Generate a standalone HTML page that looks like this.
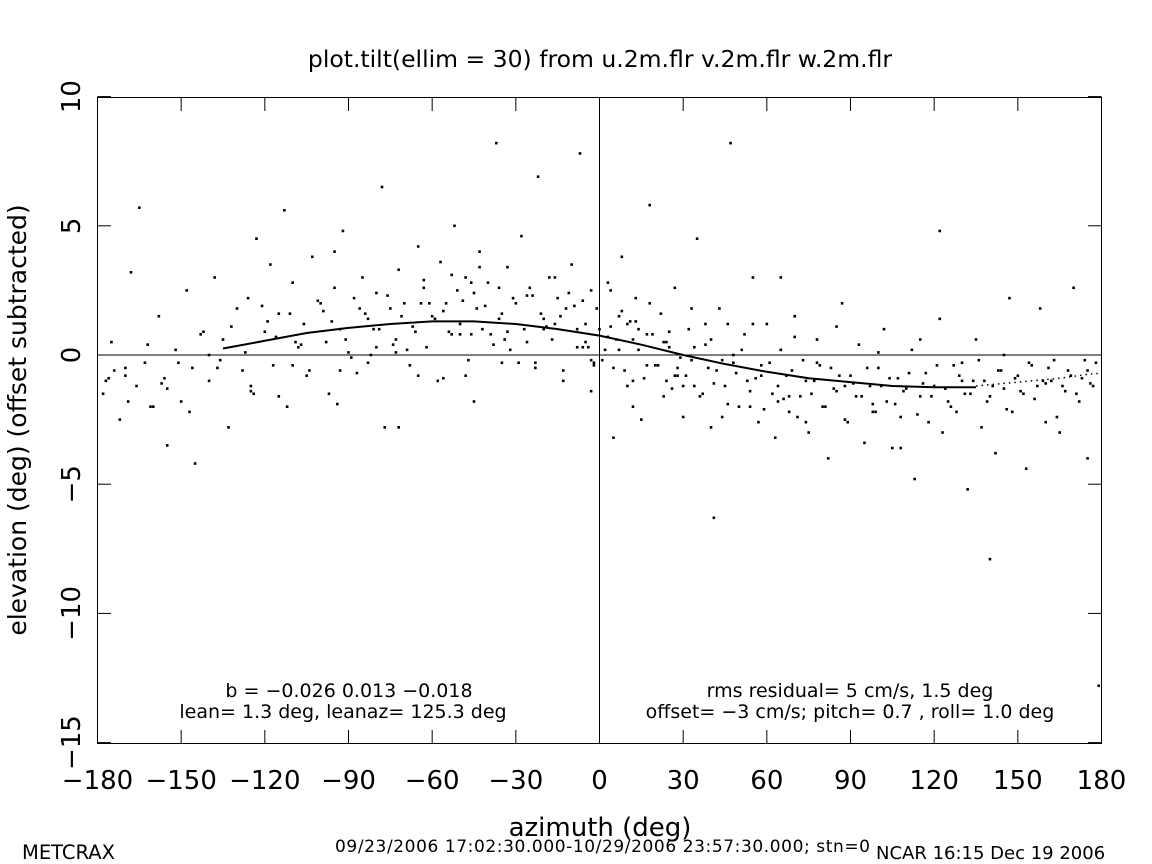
<!DOCTYPE html>
<html><head><meta charset="utf-8"><style>
html,body{margin:0;padding:0;background:#fff;}
svg{display:block;font-family:"DejaVu Sans","Liberation Sans",sans-serif;}
</style></head><body>
<svg id="chart" width="1152" height="864" viewBox="0 0 1152 864">
<text x="600" y="67" font-size="23.5" text-anchor="middle">plot.tilt(ellim = 30) from u.2m.flr v.2m.flr w.2m.flr</text>
<rect x="97.5" y="97.5" width="1004" height="646" fill="none" stroke="#000" stroke-width="1"/>
<g id="ticks"></g>
<g id="pts"></g>
<g id="fit"></g>
<text x="0" y="0" font-size="25" text-anchor="middle" transform="translate(26,420) rotate(-90)">elevation (deg)  (offset subtracted)</text>
<text x="600" y="836" font-size="26" text-anchor="middle">azimuth (deg)</text>
<text x="349" y="697" font-size="19" text-anchor="middle">b = −0.026  0.013 −0.018</text>
<text x="343" y="718" font-size="19" text-anchor="middle">lean= 1.3 deg, leanaz= 125.3 deg</text>
<text x="850" y="697" font-size="19" text-anchor="middle">rms residual= 5 cm/s, 1.5 deg</text>
<text x="850" y="718" font-size="19" text-anchor="middle">offset= −3 cm/s; pitch= 0.7 , roll= 1.0 deg</text>
<text x="22" y="859" font-size="19.5">METCRAX</text>
<text x="335" y="852" font-size="17" textLength="535">09/23/2006 17:02:30.000-10/29/2006 23:57:30.000; stn=0</text>
<text x="876" y="859" font-size="18">NCAR 16:15 Dec 19 2006</text>
</svg>
<script>
const xTicks=[-180,-150,-120,-90,-60,-30,0,30,60,90,120,150,180];
const yTicks=[10,5,0,-5,-10,-15];
const fitAz=[-135,-120,-105,-90,-75,-60,-45,-30,-15,0,15,30,45,60,75,90,105,120,135];
const fitEl=[0.25,0.55,0.85,1.05,1.2,1.3,1.3,1.2,1.0,0.75,0.4,0.0,-0.35,-0.65,-0.9,-1.05,-1.2,-1.25,-1.25];
const dotAz=[135,145,155,165,175,180];
const dotEl=[-1.2,-1.1,-1.0,-0.9,-0.75,-0.7];
const ptAz=[-178,-175,-172,-170,-168,-166,-165,-163,-160,-158,-156,-155,-152,-150,-148,-146,-145,-143,-140,-138,-136,-135,-133,-130,-128,-126,-125,-123,-120,-118,-117,-115,-113,-112,-110,-108,-106,-105,-103,-100,-98,-97,-95,-93,-92,-90,-88,-87,-85,-83,-82,-80,-78,-77,-75,-73,-72,-70,-68,-67,-65,-63,-62,-60,-58,-57,-55,-53,-52,-50,-48,-47,-45,-43,-42,-40,-38,-37,-35,-33,-32,-30,-28,-27,-25,-23,-22,-20,-18,-17,-15,-13,-12,-10,-8,-7,-5,-3,-2,0,2,3,5,7,8,10,12,13,15,17,18,20,22,23,25,27,28,30,32,33,35,37,38,40,42,43,45,47,48,50,52,53,55,57,58,60,62,63,65,67,68,70,72,73,75,77,78,80,82,83,85,87,88,90,92,93,95,97,98,100,102,103,105,107,108,110,112,113,115,117,118,120,122,123,125,127,128,130,132,133,135,137,138,140,142,143,145,147,148,150,152,153,155,157,158,160,162,163,165,167,168,170,172,173,175,177,178,-161,-124,-95,-72,-48,-8,-3,5,12,33,41,46,65,108,122,140,-170,-140,-110,-80,-50,-20,10,40,70,100,130,160,-155,-125,-65,-35,-5,25,55,85,115,145,175,-177,30,12,-115,-45,-176,179,
-174,-169,-162,-157,-151,-147,-142,-137,-132,-127,-121,-116,-111,-107,-101,-96,-91,-86,-81,-76,-71,-66,-61,-56,-51,-46,-41,-36,-31,-26,-21,-16,-11,-6,-1,1,4,6,9,11,14,16,19,21,24,26,29,31,34,36,39,41,44,46,49,51,54,56,59,61,64,66,69,71,74,76,79,81,84,86,89,91,94,96,99,101,104,106,109,111,114,116,119,121,124,126,129,131,134,136,139,141,144,146,149,151,154,156,159,161,164,166,169,171,174,176,
-104,-94,-84,-74,-64,-54,-44,-34,-24,-14,-4,-9,-19,-29,-39,-49,-59,-69,-79,-89,-99,-109,-119,-2,3,8,13,18,23,28,38,48,58,68,78,88,98,-56,-46,-36,-26,-16,-6,4,14,24,34,44,54,64,74,-33,-23,-13,-3,7,17,27,-53,-43,-63,-73,-83,-93];
const ptEl=[-1.5,0.5,-2.5,-0.8,3.2,-1.2,5.7,-0.3,-2.0,1.5,-0.9,-3.5,0.2,-1.8,2.5,-0.5,-4.2,0.8,-1.0,3.0,-0.2,0.6,-2.8,1.8,-0.6,2.2,-1.4,4.5,0.9,3.5,-0.4,1.6,5.6,-2.0,2.8,0.3,1.2,-0.8,3.8,2.0,0.5,-1.5,2.6,1.0,4.8,0.1,2.2,-0.7,3.0,1.4,0.0,2.4,6.5,-2.8,1.8,0.6,3.3,2.0,-0.4,1.1,4.2,2.6,0.3,1.5,-1.0,3.6,2.0,0.8,5.0,1.2,3.0,-0.2,2.4,4.0,1.0,2.8,0.4,8.2,1.6,3.4,0.2,2.0,4.6,1.0,2.6,-0.5,6.9,1.4,3.0,0.6,2.2,-1.0,1.8,3.5,0.3,7.8,1.2,2.5,-0.3,1.0,0.2,2.8,-0.5,1.5,3.8,-1.2,0.6,2.2,-2.5,0.8,5.8,-0.4,1.6,-1.6,0.3,2.6,-0.8,-2.4,1.0,-0.2,4.5,-1.5,0.4,-2.8,-0.6,1.8,-1.2,8.2,-0.3,-2.0,0.8,-1.0,3.0,-2.6,-0.4,1.2,-1.5,-3.2,0.2,-0.8,-2.2,1.5,-1.6,-0.2,-3.0,-1.0,0.6,-2.0,-4.0,-0.5,-1.4,2.0,-2.5,-0.8,-1.6,0.4,-3.4,-1.2,-2.2,-0.5,1.0,-1.8,-3.6,-0.9,-2.4,-1.3,0.2,-4.8,-1.6,-0.7,-2.6,-1.2,1.4,-3.0,-1.8,-0.4,-2.2,-1.0,-5.2,-1.5,0.6,-2.8,-1.0,-1.6,-3.8,-0.6,-1.3,2.2,-2.2,-0.8,-1.5,-4.4,-0.4,-1.2,1.8,-2.6,-1.0,-0.2,-3.0,-1.4,-0.6,2.6,-1.8,-0.9,-4.0,-1.2,-0.3,-2.0,-1.5,4.0,-2.8,-0.8,1.0,-1.4,-3.2,-2.0,1.8,-6.3,1.2,3.0,-3.6,4.8,-7.9,-0.5,0.0,-0.4,0.3,0.8,1.0,1.2,0.6,0.7,0.1,-0.3,-1.1,-1.3,-1.2,-0.8,-0.3,0.5,0.9,1.2,1.1,0.6,0.0,-0.6,-1.0,-1.2,-1.0,-1.6,-1.8,-0.9,-12.8,
-0.6,-1.8,0.4,-1.1,-0.3,-2.2,0.9,-0.5,1.1,0.1,1.9,0.7,1.6,0.4,2.1,1.3,0.6,1.8,1.0,2.3,1.5,0.9,2.0,1.7,2.5,0.8,1.9,1.4,2.2,0.5,1.6,1.2,2.4,0.3,1.8,-0.2,1.1,0.6,-0.6,1.3,0.2,-0.9,0.8,-0.4,0.5,-1.3,-0.1,-0.8,0.3,-1.6,-0.5,-1.1,-0.2,-1.9,-0.7,0.2,-1.4,-0.9,-2.1,-0.3,-1.2,-1.7,-0.6,-2.4,-1.0,-1.5,-0.4,-2.0,-1.3,-0.8,-2.6,-1.1,-1.6,-0.5,-2.2,-1.2,-0.9,-1.9,-1.4,-0.7,-2.3,-1.1,-1.6,-0.4,-1.3,-2.0,-0.8,-1.5,-1.0,-0.2,-1.8,-1.2,-0.6,-2.1,-0.9,-1.4,-0.3,-1.7,-1.0,-0.5,-2.4,-1.2,-0.8,-1.5,-0.2,-1.1,-0.6,-1.9,
1.6,0.4,2.0,0.9,1.8,0.6,2.3,1.5,0.3,1.9,1.1,-0.3,0.8,2.1,1.4,0.2,1.0,-0.1,1.7,0.5,1.3,-0.4,0.7,1.7,1.3,2.0,0.5,-0.5,1.2,0.0,-0.8,-1.6,-0.3,-1.2,-1.9,-0.9,2.8,2.6,2.3,3.0,2.1,2.5,1.0,-1.0,-1.2,-2.4,-2.0,-1.8,-2.6,0.9,-0.3,-0.6,-0.2,0.2,-0.4,-0.8,3.1,3.4,2.9,0.1,-0.3,-0.6];
const X=a=>97.5+(a+180)/360*1004;
const Y=e=>355+(0-e)*25.84;
const NS='http://www.w3.org/2000/svg';
function mk(t,at,parent){const e=document.createElementNS(NS,t);for(const k in at)e.setAttribute(k,at[k]);parent.appendChild(e);return e;}
const svg=document.getElementById('chart'),tk=document.getElementById('ticks'),pg=document.getElementById('pts'),fg=document.getElementById('fit');
xTicks.forEach(v=>{const x=X(v);
 const l=mk('line',{x1:x,x2:x,y1:743.5,y2:730,stroke:'#000'},tk);
 
 
 const l2=mk('line',{x1:x,x2:x,y1:97.5,y2:111,stroke:'#000'},tk);
 
 
 const t=mk('text',{x:x,y:789,'font-size':26,'text-anchor':'middle'},svg);
 t.textContent=String(v).replace('-','−');
 
 });
yTicks.forEach(v=>{const y=Y(v);
 const l=mk('line',{x1:97.5,x2:111,y1:y,y2:y,stroke:'#000'},tk);
 
 
 const l2=mk('line',{x1:1101.5,x2:1088,y1:y,y2:y,stroke:'#000'},tk);
 
 
 const t=mk('text',{x:0,y:0,'font-size':26,'text-anchor':'middle',transform:`translate(80,${y}) rotate(-90)`},svg);
 t.textContent=String(v).replace('-','−');
 
 });
const h=mk('line',{x1:97.5,x2:1101.5,y1:Y(0),y2:Y(0),stroke:'#000'},tk);


const v0=mk('line',{x1:X(0),x2:X(0),y1:97.5,y2:743.5,stroke:'#000'},tk);


ptAz.forEach((a,i)=>{if(ptEl[i]===undefined)return;const x=X(a),y=Y(ptEl[i]);
 const p=mk('rect',{x:x-1.3,y:y-1.3,width:2.6,height:2.6,fill:'#000'},pg);
 
 });
const fp=mk('polyline',{points:fitAz.map((a,i)=>X(a)+','+Y(fitEl[i])).join(' '),fill:'none',stroke:'#000','stroke-width':2},fg);


const dp=mk('polyline',{points:dotAz.map((a,i)=>X(a)+','+Y(dotEl[i])).join(' '),fill:'none',stroke:'#000','stroke-width':1.5,'stroke-dasharray':'1.5 4'},fg);


</script>
</body></html>
